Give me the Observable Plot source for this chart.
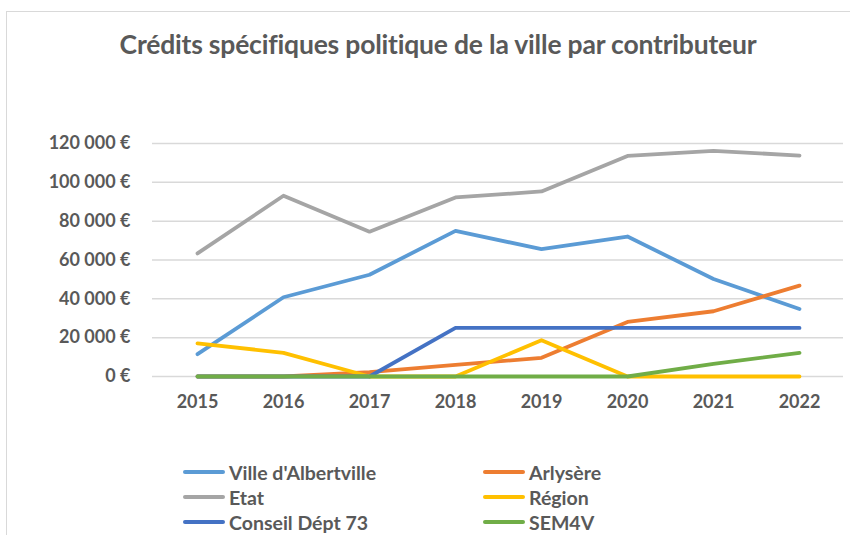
<!DOCTYPE html>
<html>
<head>
<meta charset="utf-8">
<script src="https://cdn.jsdelivr.net/npm/d3@7"></script>
<script src="https://cdn.jsdelivr.net/npm/@observablehq/plot@0.6"></script>
<style>
  html, body { margin: 0; padding: 0; background: #fff; overflow: hidden; }
  #wrap { position: relative; width: 850px; height: 535px; overflow: hidden; font-family: Lato, "Open Sans", sans-serif; }
  #frame { position: absolute; left: 6px; top: 11px; width: 900px; height: 600px; border: 1px solid #d9d9d9; box-sizing: border-box; }
  #title { position: absolute; left: 0; width: 876px; top: 28px; text-align: center; font-size: 26.5px; font-weight: bold; color: #595959; letter-spacing: -0.2px; }
  #chart { position: absolute; left: 0; top: 0; }
  .leg { position: absolute; display: flex; align-items: center; font-size: 19.5px; font-weight: bold; color: #595959; white-space: nowrap; }
  .sw { width: 42px; height: 4px; border-radius: 2px; margin-right: 4px; }
</style>
</head>
<body>
<div id="wrap">
  <div id="frame"></div>
  <div id="chart"></div>
  <div id="title">Crédits spécifiques politique de la ville par contributeur</div>
</div>
<script>
const years = ["2015", "2016", "2017", "2018", "2019", "2020", "2021", "2022"];
const seriesNames = ["Ville d'Albertville", "Arlysère", "Etat", "Région", "Conseil Dépt 73", "SEM4V"];
const seriesColors = ["#5B9BD5", "#ED7D31", "#A5A5A5", "#FFC000", "#4472C4", "#70AD47"];
const ville    = [11500, 40800, 52400, 75000, 65600, 72100, 50200, 34800];
const arlysere = [0, 0, 2200, 6000, 9600, 28100, 33600, 46800];
const etat     = [63400, 93100, 74600, 92200, 95300, 113600, 116200, 113800];
const region   = [17100, 12200, 0, 0, 18700, 0, 0, 0];
const conseil  = [0, 0, 0, 25000, 25000, 25000, 25000, 25000];
const sem4v    = [0, 0, 0, 0, 0, 0, 6500, 12200];
const yTicks = [0, 20000, 40000, 60000, 80000, 100000, 120000];

const allSeries = [ville, arlysere, etat, region, conseil, sem4v];
const data = [];
allSeries.forEach((vals, i) => {
  vals.forEach((v, j) => data.push({serie: seriesNames[i], year: years[j], value: v}));
});

const fmt = d => d3.format(",")(d).replace(/,/g, " ") + " €";

const chart = Plot.plot({
  width: 850,
  height: 535,
  marginLeft: 152,
  marginRight: 7,
  marginTop: 143,
  marginBottom: 159,
  style: {fontFamily: "Lato, 'Open Sans', sans-serif", fontSize: "18px", fontWeight: "bold", color: "#595959", background: "transparent", overflow: "visible"},
  x: {type: "point", domain: years, padding: 0.5, label: null},
  y: {domain: [0, 120000], ticks: yTicks, label: null},
  color: {domain: seriesNames, range: seriesColors},
  marks: [
    Plot.gridY(yTicks, {stroke: "#d9d9d9", strokeOpacity: 1, strokeWidth: 1.5}),
    Plot.axisY(yTicks, {tickSize: 0, tickPadding: 22, tickFormat: fmt, fill: "#595959", fontSize: 18, fontWeight: "bold", label: null}),
    Plot.axisX({tickSize: 0, tickPadding: 19, fill: "#595959", fontSize: 18, fontWeight: "bold", label: null}),
    Plot.line(data, {x: "year", y: "value", z: "serie", stroke: "serie", strokeWidth: 3.8, strokeLinejoin: "round", strokeLinecap: "round"})
  ]
});
document.getElementById("chart").appendChild(chart);

const wrap = document.getElementById("wrap");
const legPos = [[183, 472], [483, 472], [183, 497], [483, 497], [183, 522], [483, 522]];
const legOrder = [0, 1, 2, 3, 4, 5];
legOrder.forEach((i, k) => {
  const el = document.createElement("div");
  el.className = "leg";
  el.style.left = legPos[k][0] + "px";
  el.style.top = (legPos[k][1] - 12) + "px";
  el.style.height = "24px";
  el.innerHTML = `<div class="sw" style="background:${seriesColors[i]}"></div><span>${seriesNames[i]}</span>`;
  wrap.appendChild(el);
});
</script>
</body>
</html>
